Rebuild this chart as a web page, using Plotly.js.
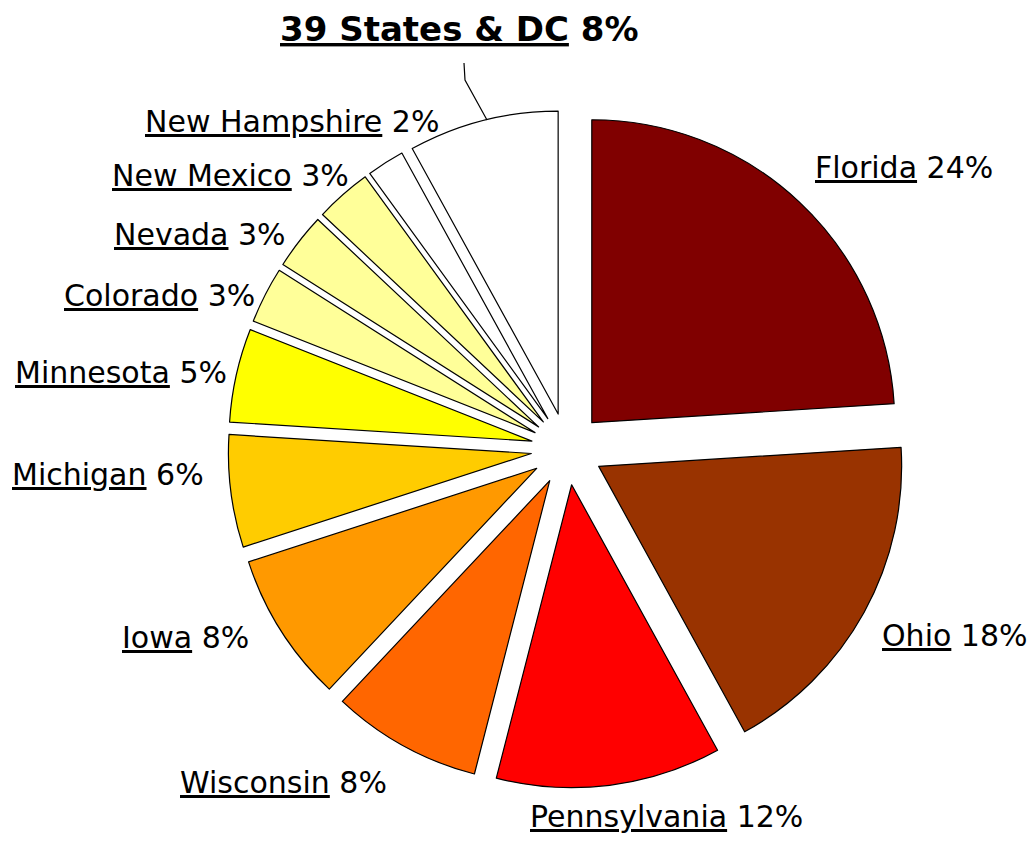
<!DOCTYPE html>
<html>
<head>
<meta charset="utf-8">
<script src="https://cdn.plot.ly/plotly-3.0.1.min.js"></script>
<style>
  html, body { margin: 0; padding: 0; background: #ffffff; }
  #chart { width: 1033px; height: 846px; }
</style>
</head>
<body>
<div id="chart"></div>
<script>
// ---- data ----
const states = ["Florida", "Ohio", "Pennsylvania", "Wisconsin", "Iowa", "Michigan",
                "Minnesota", "Colorado", "Nevada", "New Mexico", "New Hampshire", "39 States & DC"];
const shares = [24, 18, 12, 8, 8, 6, 5, 3, 3, 3, 2, 8];
const sliceColors = ["#800000", "#993300", "#FF0000", "#FF6600", "#FF9900", "#FFCC00",
                     "#FFFF00", "#FFFF99", "#FFFF99", "#FFFF99", "#FFFFFF", "#FFFFFF"];

// ---- layout helpers (label placement in pixels of the 1033x846 page) ----
const W = 1033, H = 846;
const labelLeft = [813, 880, 528, 178, 120, 10, 13, 62, 112, 110, 143, 278];
const labelMidY = [167, 635, 816, 782, 637, 474, 372, 295, 234, 175, 122, 29];
const px = (x) => x / W;
const py = (y) => 1 - y / H;

const total = shares.reduce((a, b) => a + b, 0);
const U0 = '<span style="text-decoration:underline;text-decoration-thickness:2.5px">';
const U1 = '</span>';

const annotations = states.map((s, i) => {
  const pct = Math.round(100 * shares[i] / total) + "%";
  const isTop = i === states.length - 1;
  const txt = isTop ? "<b>" + U0 + s + U1 + " " + pct + "</b>" : U0 + s + U1 + " " + pct;
  return {
    xref: "paper", yref: "paper",
    x: px(labelLeft[i]), y: py(labelMidY[i]),
    xanchor: "left", yanchor: "middle",
    showarrow: false,
    text: txt,
    font: { family: "DejaVu Sans, Arial, sans-serif", size: isTop ? 34 : 30, color: "#000000" }
  };
});

const leader = [[464, 63], [465, 80], [487, 120]];
const leaderPath = leader.map((p, i) => (i ? "L" : "M") + px(p[0]) + "," + py(p[1])).join(" ");

const trace = {
  type: "pie",
  labels: states,
  values: shares,
  sort: false,
  direction: "clockwise",
  rotation: 0,
  pull: states.map(() => 0.119),
  marker: { colors: sliceColors, line: { color: "#000000", width: 1.2 } },
  textinfo: "none",
  hoverinfo: "label+percent",
  showlegend: false,
  domain: { x: [0.199, 0.899], y: [0.0686, 0.870] }
};

const layout = {
  width: W, height: H,
  margin: { l: 0, r: 0, t: 0, b: 0 },
  paper_bgcolor: "#ffffff",
  plot_bgcolor: "#ffffff",
  showlegend: false,
  annotations: annotations,
  shapes: [{
    type: "path", xref: "paper", yref: "paper",
    path: leaderPath,
    line: { color: "#000000", width: 1.2 }
  }]
};

Plotly.newPlot("chart", [trace], layout, { displayModeBar: false, staticPlot: true });
</script>
</body>
</html>
